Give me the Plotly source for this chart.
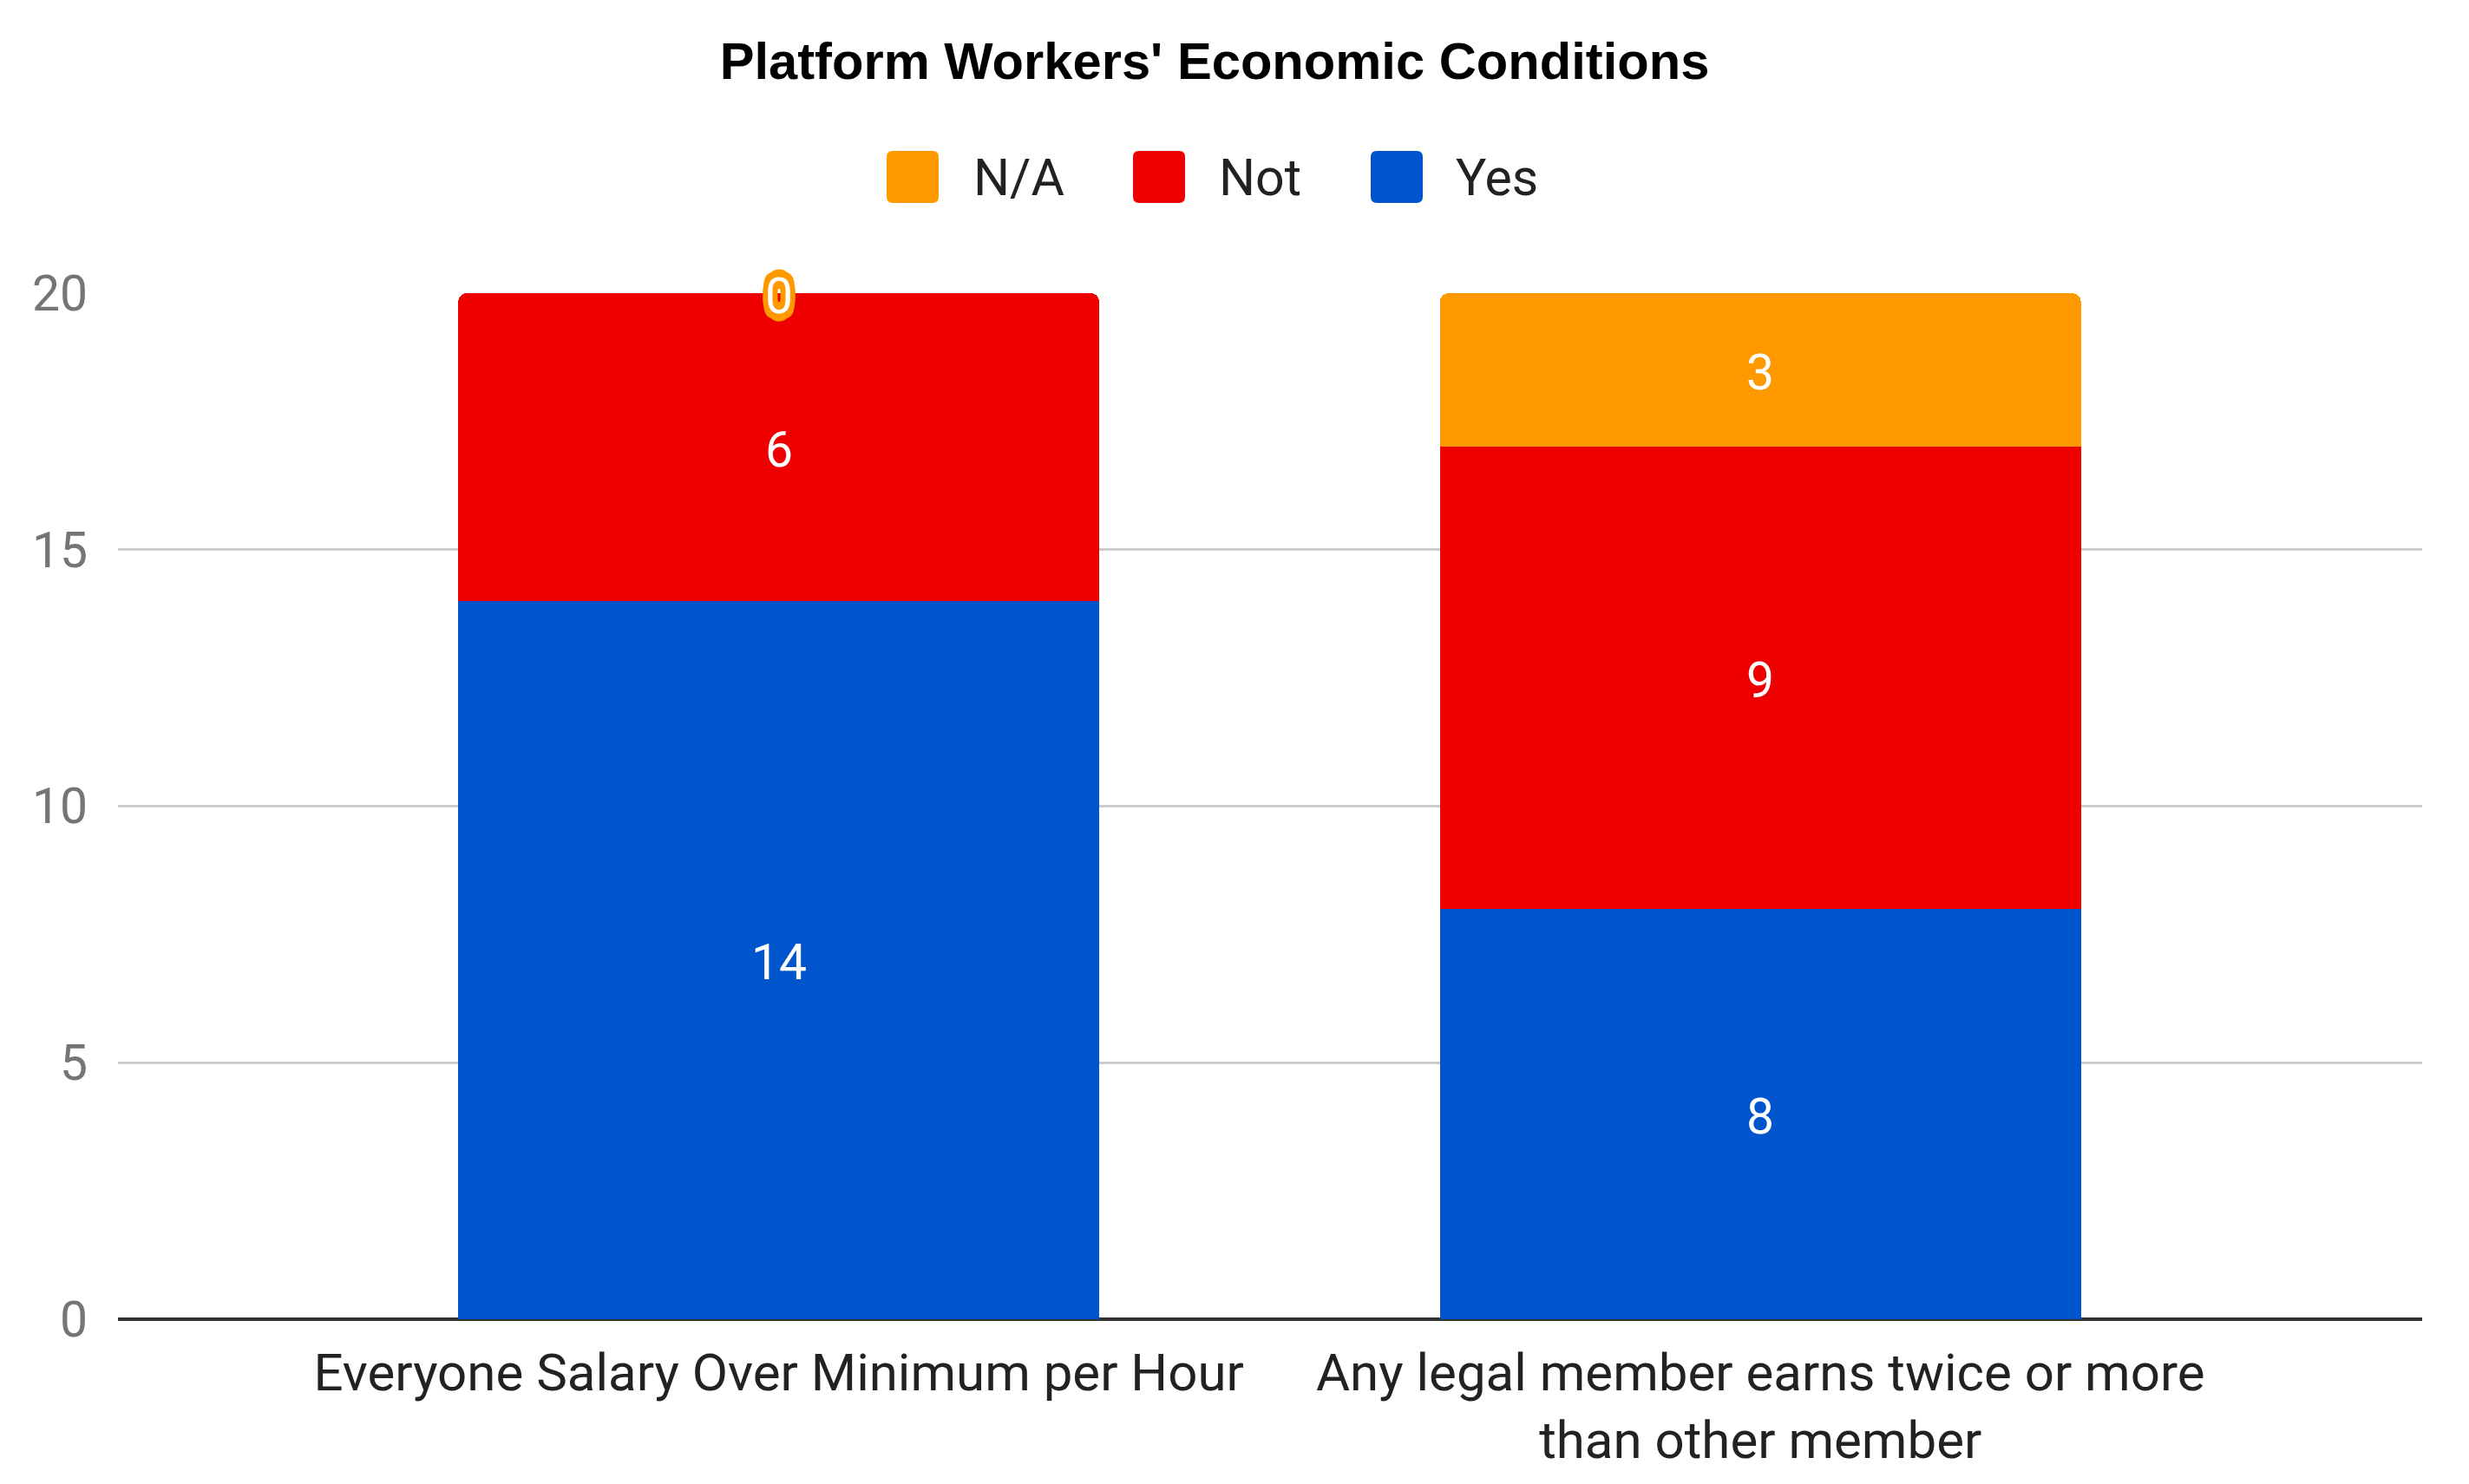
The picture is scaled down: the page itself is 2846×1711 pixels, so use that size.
import plotly.graph_objects as go

# ---- data ----
categories = ["Everyone Salary Over Minimum per Hour",
              "Any legal member earns twice or more than other member"]
tick_labels = ["Everyone Salary Over Minimum per Hour",
               "Any legal member earns twice or more<br>than other member"]
series_names = ["Yes", "Not", "N/A"]          # stacking order, bottom to top
yes_vals = [14, 8]
not_vals = [6, 9]
na_vals = [0, 3]
y_ticks = [0, 5, 10, 15, 20]
title_text = "Platform Workers' Economic Conditions"

colors = {"Yes": "#0055CC", "Not": "#EE0000", "N/A": "#FF9900"}
values = {"Yes": yes_vals, "Not": not_vals, "N/A": na_vals}

OFF = 8                      # default body margin of the page
W, H = 2846 - 2 * OFF, 1711 - 2 * OFF
# plot-area edges in page pixels
P_L, P_R, P_T, P_B = 136, 2792, 338, 1521
ML, MT = P_L - OFF, P_T - OFF
MR, MB = W - (P_R - OFF), H - (P_B - OFF)
PW, PH = W - ML - MR, H - MT - MB


def paper_x(px):
    return (px - P_L) / PW


def paper_y(py):
    return (P_B - py) / PH


def outline(col, d=6):
    offs = [(-d, 0), (d, 0), (0, -d), (0, d), (-d + 2, -d + 2), (d - 2, -d + 2),
            (-d + 2, d - 2), (d - 2, d - 2), (0, d + 3), (0, -d - 3),
            (-d + 1, d), (d - 1, d), (-d + 1, -d), (d - 1, -d)]
    return ", ".join(f"{a}px {b}px 0 {col}" for a, b in offs)


fig = go.Figure()
annotations = []
base = [0] * len(categories)
for name in series_names:
    vals = values[name]
    fig.add_trace(go.Bar(
        x=categories, y=vals, name=name,
        marker=dict(color=colors[name], line=dict(width=0)),
        showlegend=False, hoverinfo="x+y+name",
    ))
    # value labels, centred in each segment (computed from the data)
    for cat, b, v in zip(categories, base, vals):
        annotations.append(dict(
            x=cat, y=b + v / 2, xref="x", yref="y", text=str(v),
            showarrow=False, xanchor="center", yanchor="middle", yshift=-3,
            font=dict(family="Roboto", size=57, color="white",
                      shadow=outline(colors[name]))))
    base = [b + v for b, v in zip(base, vals)]

# ---- manual legend (large swatches) ----
legend_order = ["N/A", "Not", "Yes"]
swatch_cx = [1052, 1336, 1610]
text_x = [1120, 1403, 1676]
legend_cy = 204
shapes = []
r, s = 7, 30
path = (f"M{-s + r},{-s} L{s - r},{-s} Q{s},{-s} {s},{-s + r} L{s},{s - r} "
        f"Q{s},{s} {s - r},{s} L{-s + r},{s} Q{-s},{s} {-s},{s - r} "
        f"L{-s},{-s + r} Q{-s},{-s} {-s + r},{-s} Z")
for name, cx, tx in zip(legend_order, swatch_cx, text_x):
    shapes.append(dict(type="path", xref="paper", yref="paper",
                       xsizemode="pixel", ysizemode="pixel",
                       xanchor=paper_x(cx), yanchor=paper_y(legend_cy),
                       path=path, fillcolor=colors[name], line=dict(width=0)))
    annotations.append(dict(text=name, xref="paper", yref="paper",
                            x=paper_x(tx), y=paper_y(legend_cy),
                            xanchor="left", yanchor="middle", showarrow=False,
                            font=dict(family="Roboto", size=59, color="#222222")))

fig.update_layout(
    width=W, height=H,
    margin=dict(l=ML, r=MR, t=MT, b=MB, autoexpand=False),
    paper_bgcolor="white", plot_bgcolor="white",
    barmode="stack", bargap=0.347, barcornerradius=10,
    title=dict(text=f"<b>{title_text}</b>", x=(1400 - OFF) / W, xanchor="center",
               y=1 - (70 - OFF) / H, yanchor="middle", yref="container",
               font=dict(family="Liberation Sans", size=59.7, color="#000000")),
    shapes=shapes, annotations=annotations,
    showlegend=False,
)
fig.update_xaxes(
    type="category", range=[-0.673, 1.674],
    tickvals=categories, ticktext=tick_labels,
    tickfont=dict(family="Roboto", size=60, color="#222222"),
    showgrid=False, showline=False, zeroline=False, ticks="",
    ticklabelstandoff=21,
)
fig.update_yaxes(
    range=[0, 20], tickvals=y_ticks,
    tickfont=dict(family="Roboto", size=57, color="#757575"),
    showgrid=True, gridcolor="#CCCCCC", gridwidth=3,
    zeroline=True, zerolinecolor="#333333", zerolinewidth=4,
    showline=False, ticks="", ticklabelstandoff=34,
)

fig.write_html("out.html")
